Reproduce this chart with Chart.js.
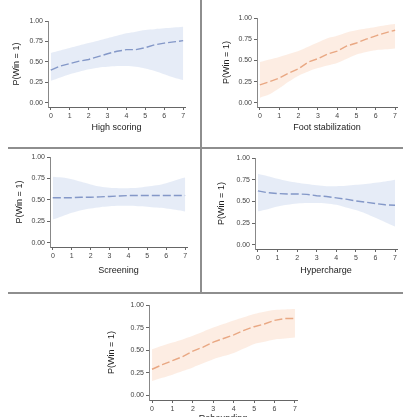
<!DOCTYPE html>
<html>
<head>
<meta charset="utf-8">
<script src="https://cdn.jsdelivr.net/npm/chart.js@4"></script>
<style>
  html, body { margin:0; padding:0; background:#fff; width:403px; height:417px; overflow:hidden; }
  .pane { position:absolute; }
  .div { position:absolute; background:#8e8e8e; }
</style>
</head>
<body>
<div class="div" style="left:200px;top:0;width:2px;height:293px"></div>
<div class="div" style="left:8px;top:147px;width:395px;height:2px"></div>
<div class="div" style="left:8px;top:292px;width:395px;height:2px"></div>

<div class="pane" style="left:0;top:0"><canvas id="c1"></canvas></div>
<div class="pane" style="left:202px;top:0"><canvas id="c2"></canvas></div>
<div class="pane" style="left:0;top:149px"><canvas id="c3"></canvas></div>
<div class="pane" style="left:202px;top:149px"><canvas id="c4"></canvas></div>
<div class="pane" style="left:100px;top:294px"><canvas id="c5"></canvas></div>

<script>
// ---------- data ----------
const xValues = [0, 0.5, 1, 1.5, 2, 2.5, 3, 3.5, 4, 4.5, 5, 5.5, 6, 6.5, 7];
const xTicks = [0, 1, 2, 3, 4, 5, 6, 7];
const yTicks = [0, 0.25, 0.5, 0.75, 1];
const yTitle = "P(Win = 1)";
const xTitles = ["High scoring", "Foot stabilization", "Screening", "Hypercharge", "Rebounding"];

const highScoringMean  = [0.40,0.45,0.48,0.51,0.53,0.565,0.60,0.63,0.65,0.65,0.675,0.71,0.73,0.745,0.76];
const highScoringUpper = [0.61,0.64,0.67,0.70,0.73,0.76,0.79,0.82,0.85,0.87,0.89,0.90,0.91,0.92,0.93];
const highScoringLower = [0.27,0.31,0.35,0.38,0.41,0.43,0.44,0.45,0.45,0.44,0.42,0.39,0.35,0.31,0.28];

const footStabMean  = [0.21,0.25,0.29,0.35,0.40,0.48,0.52,0.575,0.61,0.67,0.705,0.75,0.79,0.825,0.855];
const footStabUpper = [0.48,0.51,0.54,0.575,0.61,0.66,0.71,0.76,0.79,0.83,0.855,0.875,0.895,0.915,0.93];
const footStabLower = [0.06,0.10,0.17,0.25,0.32,0.37,0.41,0.44,0.47,0.52,0.57,0.60,0.62,0.63,0.64];

const screeningMean  = [0.525,0.525,0.525,0.53,0.53,0.535,0.54,0.545,0.55,0.55,0.55,0.55,0.55,0.55,0.55];
const screeningUpper = [0.77,0.76,0.74,0.71,0.68,0.655,0.64,0.635,0.635,0.64,0.655,0.67,0.695,0.73,0.76];
const screeningLower = [0.27,0.31,0.35,0.38,0.40,0.415,0.425,0.43,0.43,0.425,0.42,0.41,0.40,0.385,0.365];

const hyperMean  = [0.62,0.60,0.59,0.585,0.585,0.58,0.565,0.555,0.54,0.525,0.505,0.49,0.475,0.46,0.455];
const hyperUpper = [0.815,0.79,0.76,0.735,0.715,0.70,0.685,0.675,0.675,0.68,0.69,0.70,0.715,0.73,0.75];
const hyperLower = [0.385,0.41,0.44,0.46,0.475,0.48,0.48,0.475,0.46,0.43,0.40,0.36,0.31,0.26,0.21];

const reboundMean  = [0.29,0.34,0.385,0.43,0.49,0.535,0.59,0.63,0.67,0.72,0.76,0.79,0.83,0.85,0.85];
const reboundUpper = [0.51,0.55,0.585,0.62,0.66,0.705,0.75,0.79,0.83,0.865,0.90,0.925,0.945,0.95,0.955];
const reboundLower = [0.16,0.195,0.23,0.27,0.31,0.355,0.40,0.435,0.47,0.52,0.57,0.595,0.62,0.63,0.64];

// ---------- styles ----------
const BLUE = { line:'#3a56a0', band:'rgba(205,217,240,0.5)' };
const ORANGE = { line:'#d7743f', band:'rgba(251,220,200,0.5)' };
const FONT = "'Liberation Sans', Arial, sans-serif";

function toPts(vals){ return xValues.map((x,i)=>({x:x, y:vals[i]})); }

function makePanel(id, g, mean, upper, lower, col, xTitle){
  const cv = document.getElementById(id);
  cv.style.width = g.w + 'px'; cv.style.height = g.h + 'px';
  cv.width = g.w; cv.height = g.h;
  const titleLH = 11;
  const xh = g.xTitleY + titleLH/2 - g.bottom;
  new Chart(cv, {
    type:'line',
    data:{ datasets:[
      { data: toPts(upper), borderWidth:0, pointRadius:0, fill:'+1', backgroundColor: col.band, tension:0.3 },
      { data: toPts(lower), borderWidth:0, pointRadius:0, fill:false, tension:0.3 },
      { data: toPts(mean), borderColor: col.line, borderWidth:1.4, borderDash:[8,3], pointRadius:0, fill:false, tension:0 }
    ]},
    options:{
      responsive:false, animation:false, devicePixelRatio:1,
      layout:{ padding:{ left:0, top:g.top, right:g.w - g.right, bottom: g.h - g.bottom - xh } },
      plugins:{ legend:{display:false}, tooltip:{enabled:false} },
      scales:{
        x:{ type:'linear', min:-0.15, max:7.1,
            afterBuildTicks: ax => { ax.ticks = xTicks.map(v=>({value:v})); },
            afterFit: sc => { sc.height = xh; },
            grid:{ display:true, drawOnChartArea:false, drawTicks:true, tickLength:3, color:'#666' },
            border:{ display:true, color:'#666', width:1 },
            ticks:{ autoSkip:false, maxRotation:0, padding:2, color:'#444', font:{family:FONT, size:7},
                    callback: v => String(v) },
            title:{ display:true, text:xTitle, color:'#222', padding:0, font:{family:FONT, size:9, lineHeight:1.2} }
        },
        y:{ type:'linear', min:-0.05, max:1,
            afterBuildTicks: ax => { ax.ticks = yTicks.map(v=>({value:v})); },
            afterFit: sc => { sc.width = g.left; },
            grid:{ display:true, drawOnChartArea:false, drawTicks:true, tickLength:3, color:'#666' },
            border:{ display:true, color:'#888', width:1 },
            ticks:{ padding:2, color:'#444', font:{family:FONT, size:7}, callback: v => Number(v).toFixed(2) },
            title:{ display:true, text:yTitle, color:'#222', padding:{top: g.yTitleX - titleLH/2, bottom:0}, font:{family:FONT, size:9, lineHeight:1.2} }
        }
      }
    }
  });
}

makePanel('c1', {w:200,h:147,left:48,right:185,top:21,bottom:107,yTitleX:17,xTitleY:127}, highScoringMean, highScoringUpper, highScoringLower, BLUE, xTitles[0]);
makePanel('c2', {w:201,h:147,left:55,right:195,top:18,bottom:107,yTitleX:25,xTitleY:127}, footStabMean, footStabUpper, footStabLower, ORANGE, xTitles[1]);
makePanel('c3', {w:200,h:143,left:50,right:187,top:8,bottom:98,yTitleX:20,xTitleY:121}, screeningMean, screeningUpper, screeningLower, BLUE, xTitles[2]);
makePanel('c4', {w:201,h:143,left:53,right:195,top:9,bottom:100,yTitleX:20,xTitleY:121}, hyperMean, hyperUpper, hyperLower, BLUE, xTitles[3]);
makePanel('c5', {w:210,h:140,left:49,right:197,top:11,bottom:106,yTitleX:12,xTitleY:124}, reboundMean, reboundUpper, reboundLower, ORANGE, xTitles[4]);
</script>
</body>
</html>
